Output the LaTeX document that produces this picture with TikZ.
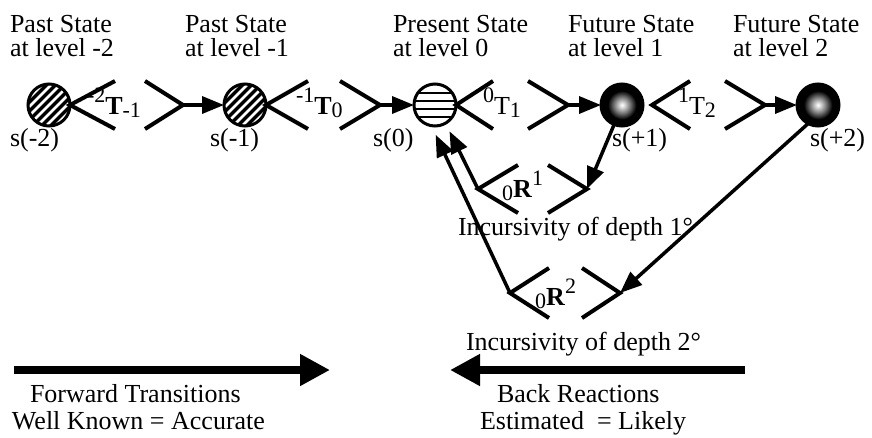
\documentclass[tikz,border=0pt]{standalone}
\usepackage{fontspec}
\setmainfont{Liberation Serif}
\usepackage{tikz}
\usetikzlibrary{positioning, arrows.meta, calc}

\pgfdeclareradialshading{sphere}{\pgfpoint{0bp}{0bp}}{color(0bp)=(white); color(3bp)=(white!85!black); color(9bp)=(gray); color(17bp)=(black); color(25bp)=(black); color(50bp)=(black)}

\newcommand{\upidx}[1]{\raisebox{12pt}{\fontsize{22}{22}\selectfont #1}}
\newcommand{\dnidx}[1]{\raisebox{-3pt}{\fontsize{22}{22}\selectfont #1}}

\begin{document}
\begin{tikzpicture}[
    x=1pt, y=1pt,
    every node/.style={font=\fontsize{26}{24}\selectfont, inner sep=0pt, outer sep=0pt},
    state/.style={circle, draw=black, line width=3pt, minimum size=42pt},
    paststate/.style={state, fill=black, path picture={
        \foreach \k in {-36,-27,...,36}
          \draw[white, line width=2.6pt] ([shift={(\k-30,-30)}]path picture bounding box.center) -- ++(60,60);}},
    nowstate/.style={state, fill=white, path picture={
        \foreach \dy in {-12,-4,4,12}
          \draw[black, line width=2.4pt] ([yshift=\dy pt]path picture bounding box.west) -- ([yshift=\dy pt]path picture bounding box.east);}},
    futstate/.style={state, shade, shading=sphere},
    header/.style={anchor=north west, align=left},
    slabel/.style={anchor=base west},
    arm/.style={line width=4pt},
    flow/.style={line width=3.5pt, -{Triangle[length=22pt,width=17pt]}},
    bigflow/.style={line width=8pt, -{Triangle[length=30pt,width=30pt]}}
]
\useasboundingbox (0,0) rectangle (872,-437);

% States
\node[paststate] (sm2) at (49,-105) {};
\node[paststate] (sm1) at (245,-105) {};
\node[nowstate] (s0) at (435,-105) {};
\node[futstate] (sp1) at (622,-105) {};
\node[futstate] (sp2) at (818,-105) {};

% Headers
\node[header] (hm2) at (10,-15) {Past State\\at level -2};
\node[header] (hm1) at (185,-15) {Past State\\at level -1};
\node[header] (h0) at (393,-15) {Present State\\at level 0};
\node[header] (hp1) at (568,-15) {Future State\\at level 1};
\node[header] (hp2) at (733,-15) {Future State\\at level 2};

% State names
\node[slabel] (lm2) at (10,-146) {s(-2)};
\node[slabel] (lm1) at (210,-146) {s(-1)};
\node[slabel] (l0) at (373,-146) {s(0)};
\node[slabel] (lp1) at (612,-146) {s(+1)};
\node[slabel] (lp2) at (810,-146) {s(+2)};

% Forward transitions
\coordinate (t1out) at (183,-105);
\draw[arm] ($(sm2.east)+(45,24)$) -- (sm2.east) -- ($(sm2.east)+(45,-24)$);
\draw[arm] ($(t1out)+(-38,24)$) -- (t1out) -- ($(t1out)+(-38,-24)$);
\draw[flow] (t1out) -- (sm1);
\node[slabel] (t1) at (87,-114) {\upidx{-2}\textbf{T}\dnidx{-1}};

\coordinate (t2out) at (380,-105);
\draw[arm] ($(sm1.east)+(42,24)$) -- (sm1.east) -- ($(sm1.east)+(42,-24)$);
\draw[arm] ($(t2out)+(-40,24)$) -- (t2out) -- ($(t2out)+(-40,-24)$);
\draw[flow] (t2out) -- (s0);
\node[slabel] (t2) at (296,-114) {\upidx{-1}\textbf{T}\dnidx{0}};

\coordinate (t3out) at (568,-105);
\draw[arm] ($(s0.east)+(37,24)$) -- (s0.east) -- ($(s0.east)+(37,-24)$);
\draw[arm] ($(t3out)+(-40,24)$) -- (t3out) -- ($(t3out)+(-40,-24)$);
\draw[flow] (t3out) -- (sp1);
\node[slabel] (t3) at (483,-114) {\upidx{0}T\dnidx{1}};

\coordinate (t4in) at (652,-105);
\coordinate (t4out) at (765,-105);
\draw[arm] ($(t4in)+(38,24)$) -- (t4in) -- ($(t4in)+(38,-24)$);
\draw[arm] ($(t4out)+(-40,24)$) -- (t4out) -- ($(t4out)+(-40,-24)$);
\draw[flow] (t4out) -- (sp2);
\node[slabel] (t4) at (678,-114) {\upidx{1}T\dnidx{2}};

% Back reactions, depth 1
\coordinate (r1in) at (587,-189);
\coordinate (r1out) at (478,-189);
\draw[arm] ($(r1out)+(40,24)$) -- (r1out) -- ($(r1out)+(40,-24)$);
\draw[arm] ($(r1in)+(-39,24)$) -- (r1in) -- ($(r1in)+(-39,-24)$);
\draw[flow] (sp1.-112) -- (r1in);
\draw[flow, shorten >=9pt] (r1out) -- (s0.-60);
\node[slabel] (r1) at (502,-197) {\dnidx{0}\textbf{R}\upidx{1}};
\node[slabel] (inc1) at (458,-235) {Incursivity of depth 1°};

% Back reactions, depth 2
\coordinate (r2in) at (620,-293);
\coordinate (r2out) at (510,-293);
\draw[arm] ($(r2out)+(39,25)$) -- (r2out) -- ($(r2out)+(39,-25)$);
\draw[arm] ($(r2in)+(-38,25)$) -- (r2in) -- ($(r2in)+(-38,-25)$);
\draw[flow] (sp2.-118) -- (r2in);
\draw[flow, shorten >=10pt] (r2out) -- (s0.-100);
\node[slabel] (r2) at (535,-305) {\dnidx{0}\textbf{R}\upidx{2}};
\node[slabel] (inc2) at (466,-350) {Incursivity of depth 2°};

% Legend arrows
\coordinate (fwdstart) at (14,-370);
\coordinate (fwdend) at (330,-370);
\coordinate (backstart) at (745,-370);
\coordinate (backend) at (450,-370);
\draw[bigflow] (fwdstart) -- (fwdend);
\draw[bigflow] (backstart) -- (backend);
\node[slabel] (fwd1) at (30,-402) {Forward Transitions};
\node[slabel] (fwd2) at (12,-429) {Well Known = Accurate};
\node[slabel] (back1) at (497,-402) {Back Reactions};
\node[slabel] (back2) at (480,-429) {Estimated~ = Likely};

\end{tikzpicture}
\end{document}
